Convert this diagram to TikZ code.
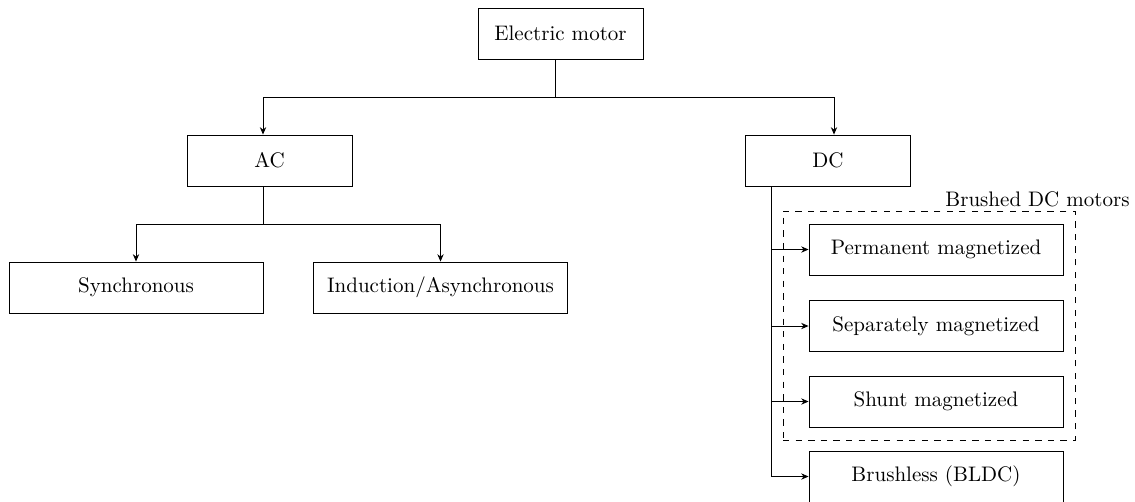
\documentclass[tikz,border=0pt]{standalone}
\usetikzlibrary{arrows.meta}
\begin{document}
\begin{tikzpicture}[x=0.4758pt,y=-0.4758pt,
  box/.style={draw, minimum height=24.3pt, inner sep=0pt},
  narrow/.style={minimum width=78.5pt},
  wide/.style={minimum width=120.9pt},
  arr/.style={-{Stealth[length=3.5pt,width=3pt]}},
  brushedbox/.style={draw, dashed, minimum width=138.9pt, minimum height=109pt, inner sep=0pt}]
\useasboundingbox (0,0) rectangle (1135,501);
% nodes
\node[box, narrow] (em) at (560.5,33.5) {Electric motor};
\node[box, narrow] (ac) at (269.5,160.5) {AC};
\node[box, narrow] (dc) at (828,160.5) {DC};
\node[box, wide] (syn) at (136,287.5) {Synchronous};
\node[box, wide] (ind) at (440.5,287.5) {Induction/Asynchronous};
\node[box, wide] (pm) at (936,249.5) {Permanent magnetized};
\node[box, wide] (sep) at (936,326) {Separately magnetized};
\node[box, wide] (sh) at (936,401.5) {Shunt magnetized};
\node[box, wide] (bl) at (936,476.5) {Brushless (BLDC)};
\node[brushedbox] (brushed) at (929,325.5) {};
\node[anchor=base] (lbl) at (1037.5,206) {Brushed DC motors};
% junctions
\coordinate (emj) at (555,97);
\coordinate (acx) at (263,97);
\coordinate (dcx) at (834,97);
\coordinate (acj) at (263,224);
\coordinate (dcv) at (771,0);
% connectors
\draw (emj |- em.south) -- (emj);
\draw[arr] (emj) -- (acx) -- (acx |- ac.north);
\draw[arr] (emj) -- (dcx) -- (dcx |- dc.north);
\draw (acj |- ac.south) -- (acj);
\draw[arr] (acj) -| (syn.north);
\draw[arr] (acj) -| (ind.north);
\draw (dcv |- dc.south) -- (dcv |- bl.west);
\draw[arr] (dcv |- pm.west) -- (pm.west);
\draw[arr] (dcv |- sep.west) -- (sep.west);
\draw[arr] (dcv |- sh.west) -- (sh.west);
\draw[arr] (dcv |- bl.west) -- (bl.west);
\end{tikzpicture}
\end{document}
